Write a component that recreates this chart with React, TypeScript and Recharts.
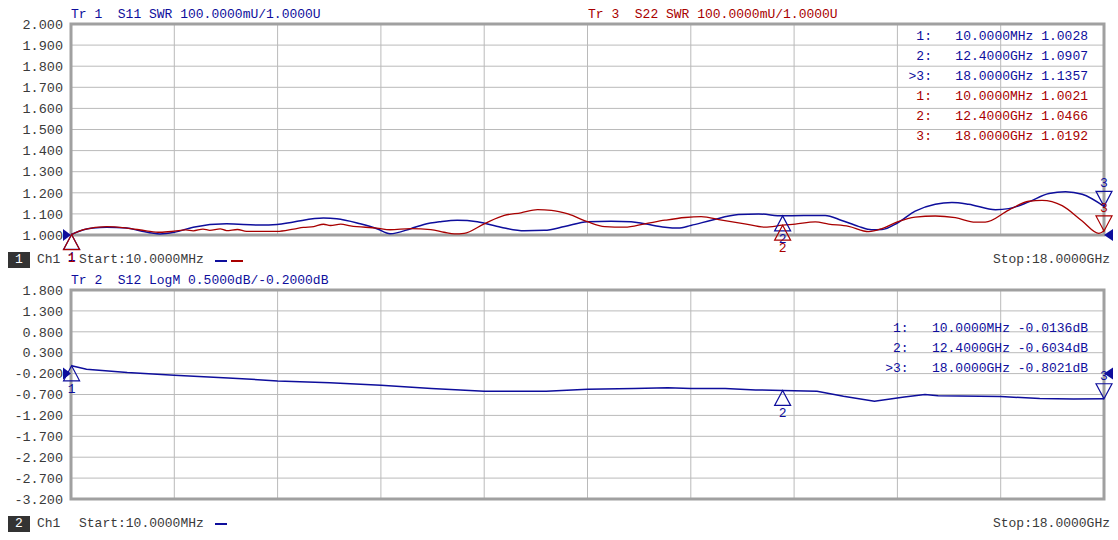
import React from 'react';
import { ComposedChart, Line, XAxis, YAxis, CartesianGrid, ReferenceArea, ReferenceDot } from 'recharts';

// frequency axis, GHz (10 MHz .. 18 GHz)
const freqTicks = [0, 1.8, 3.6, 5.4, 7.2, 9, 10.8, 12.6, 14.4, 16.2, 18];
const swrTicks = [1.0, 1.1, 1.2, 1.3, 1.4, 1.5, 1.6, 1.7, 1.8, 1.9, 2.0];
const logmTicks = [-3.2, -2.7, -2.2, -1.7, -1.2, -0.7, -0.2, 0.3, 0.8, 1.3, 1.8];

// Tr 1 S11 SWR
const s11Freq = [0.01, 0.22, 0.39, 0.62, 0.97, 1.2, 1.55, 1.8, 2.13, 2.71, 3.3, 3.59, 3.88, 4.4, 4.63, 5.04, 5.33, 5.56, 5.92, 6.15, 6.44, 6.73, 7.08, 7.49, 7.9, 8.25, 8.6, 9.0, 9.41, 9.76, 10.0, 10.35, 10.58, 10.8, 11.16, 11.63, 11.98, 12.4, 13.14, 13.43, 13.72, 13.95, 14.13, 14.4, 14.71, 15.06, 15.35, 15.64, 16.11, 16.34, 16.69, 17.04, 17.33, 17.62, 18.0];
const s11Swr = [1.0028, 1.025, 1.033, 1.037, 1.033, 1.02, 1.005, 1.013, 1.037, 1.053, 1.047, 1.05, 1.062, 1.08, 1.077, 1.053, 1.03, 1.006, 1.03, 1.05, 1.063, 1.07, 1.063, 1.037, 1.02, 1.022, 1.04, 1.063, 1.065, 1.063, 1.053, 1.037, 1.033, 1.045, 1.07, 1.097, 1.1, 1.0907, 1.093, 1.069, 1.041, 1.025, 1.026, 1.057, 1.113, 1.146, 1.154, 1.146, 1.12, 1.125, 1.157, 1.197, 1.205, 1.193, 1.1357];

// Tr 3 S22 SWR
const s22Freq = [0.01, 0.22, 0.62, 0.97, 1.31, 1.55, 1.8, 2.0, 2.13, 2.3, 2.42, 2.6, 2.71, 2.9, 3.06, 3.59, 3.88, 4.05, 4.23, 4.4, 4.52, 4.7, 4.87, 5.33, 5.56, 5.92, 6.27, 6.5, 6.68, 6.85, 7.2, 7.55, 7.84, 8.13, 8.37, 8.66, 9.0, 9.3, 9.65, 10.0, 10.35, 10.7, 10.98, 11.34, 11.74, 12.09, 12.4, 12.62, 12.97, 13.2, 13.55, 13.9, 14.13, 14.4, 14.71, 15.06, 15.41, 15.76, 15.93, 16.34, 16.69, 16.92, 17.27, 17.62, 17.91, 18.0];
const s22Swr = [1.0021, 1.025, 1.04, 1.033, 1.02, 1.013, 1.018, 1.024, 1.02, 1.028, 1.022, 1.029, 1.021, 1.026, 1.017, 1.017, 1.028, 1.036, 1.04, 1.051, 1.045, 1.052, 1.043, 1.033, 1.025, 1.03, 1.025, 1.013, 1.005, 1.008, 1.053, 1.093, 1.105, 1.12, 1.117, 1.1, 1.063, 1.04, 1.037, 1.053, 1.07, 1.083, 1.087, 1.07, 1.053, 1.037, 1.0466, 1.052, 1.062, 1.052, 1.041, 1.016, 1.03, 1.062, 1.085, 1.09, 1.082, 1.061, 1.061, 1.118, 1.16, 1.164, 1.139, 1.066, 1.008, 1.0192];

// Tr 2 S12 LogM
const s12Freq = [0.01, 0.27, 0.98, 1.8, 2.74, 3.6, 4.51, 5.4, 6.28, 7.2, 8.28, 9.0, 9.81, 10.4, 10.8, 11.4, 11.93, 12.4, 13.0, 13.46, 14.0, 14.52, 14.88, 15.11, 16.2, 16.88, 17.47, 18.0];
const s12LogM = [-0.0136, -0.097, -0.176, -0.24, -0.303, -0.375, -0.42, -0.478, -0.557, -0.62, -0.62, -0.573, -0.557, -0.54, -0.557, -0.557, -0.59, -0.6034, -0.62, -0.74, -0.86, -0.76, -0.7, -0.73, -0.75, -0.795, -0.81, -0.8021];

// markers
const markerFreq = [0.01, 12.4, 18];
const markerText = ['10.0000MHz', '12.4000GHz', '18.0000GHz'];
const s11Marker = [1.0028, 1.0907, 1.1357];
const s22Marker = [1.0021, 1.0466, 1.0192];
const s12Marker = [-0.0136, -0.6034, -0.8021];

const BLUE = '#0e0e9c';
const RED = '#a80000';
const GRID = '#bababa';
const FRAME = '#a0a0a0';
const TEXT = '#3a3a3a';
const MONO = '"Liberation Mono", "DejaVu Sans Mono", monospace';

const toPoints = (fs: number[], vs: number[]) => fs.map((f, i) => ({ f, v: vs[i] }));

const s11Data = toPoints(s11Freq, s11Swr);
const s22Data = toPoints(s22Freq, s22Swr);
const s12Data = toPoints(s12Freq, s12LogM);

const markerShape = (color: string, label: string, down: boolean) => (props: any) => {
  const { cx, cy } = props;
  if (cx == null || cy == null) return null;
  const h = down ? -15 : 15;
  return (
    <g>
      <polygon points={`${cx},${cy} ${cx - 8},${cy + h} ${cx + 8},${cy + h}`} fill="none" stroke={color} strokeWidth={1.2} />
      <text x={cx} y={down ? cy - 19 : cy + 27} textAnchor="middle" fill={color} fontSize={13} fontFamily={MONO}>
        {label}
      </text>
    </g>
  );
};

const refArrow = (right: boolean) => (props: any) => {
  const { cx, cy } = props;
  if (cx == null || cy == null) return null;
  const d = right ? 9 : -8;
  return <polygon points={`${cx},${cy} ${cx + d},${cy - 6} ${cx + d},${cy + 6}`} fill={BLUE} />;
};

const fmt = (v: number) => v.toFixed(3);

const tickStyle = { fill: TEXT, fontSize: 13.5, fontFamily: MONO };

const Dash = ({ left, top, color }: { left: number; top: number; color: string }) => (
  <div style={{ position: 'absolute', left, top, width: 12, height: 1.5, background: color }} />
);

const textBase: React.CSSProperties = {
  position: 'absolute',
  fontFamily: MONO,
  fontSize: 13,
  lineHeight: '16px',
  whiteSpace: 'pre',
};

const ChannelBox = ({ top, n }: { top: number; n: string }) => (
  <div style={{ ...textBase, left: 8, top, width: 22, height: 16, background: '#333', color: '#fff', textAlign: 'center' }}>{n}</div>
);

const TableRow = ({ top, color, text }: { top: number; color: string; text: string }) => (
  <div style={{ ...textBase, right: 1118 - 1088, top, color }}>{text}</div>
);

export default function App() {
  return (
    <div style={{ position: 'absolute', left: 0, top: 0, width: 1118, height: 540, background: '#fff', overflow: 'hidden' }}>
      {/* top panel: S11 / S22 SWR */}
      <div style={{ position: 'absolute', left: 0, top: 0 }}>
        <ComposedChart width={1118} height={270} margin={{ top: 24, right: 14, bottom: 35, left: 0 }}>
          <XAxis type="number" dataKey="f" domain={[0, 18]} ticks={freqTicks} hide />
          <YAxis
            type="number"
            domain={[1, 2]}
            ticks={swrTicks}
            tickFormatter={fmt}
            width={71}
            axisLine={false}
            tickLine={false}
            tick={tickStyle}
            interval={0}
          />
          <CartesianGrid stroke={GRID} />
          <ReferenceArea x1={0} x2={18} y1={1} y2={2} fill="none" stroke={FRAME} strokeWidth={3} />
          <Line data={s11Data} dataKey="v" type="monotone" stroke={BLUE} strokeWidth={1.5} dot={false} isAnimationActive={false} />
          <Line data={s22Data} dataKey="v" type="monotone" stroke={RED} strokeWidth={1.3} dot={false} isAnimationActive={false} />
          <ReferenceDot x={0} y={1} shape={refArrow(false)} />
          <ReferenceDot x={18} y={1} shape={refArrow(true)} />
          {markerFreq.map((f, i) => (
            <ReferenceDot key={'b' + i} x={f} y={s11Marker[i]} shape={markerShape(BLUE, String(i + 1), i === 2)} />
          ))}
          {markerFreq.map((f, i) => (
            <ReferenceDot key={'r' + i} x={f} y={s22Marker[i]} shape={markerShape(RED, String(i + 1), i === 2)} />
          ))}
        </ComposedChart>
      </div>

      <div style={{ ...textBase, left: 71, top: 7, color: BLUE }}>{'Tr 1  S11 SWR 100.0000mU/1.0000U'}</div>
      <div style={{ ...textBase, left: 588, top: 7, color: RED }}>{'Tr 3  S22 SWR 100.0000mU/1.0000U'}</div>

      {markerFreq.map((_, i) => (
        <TableRow key={'t1' + i} top={29 + i * 20} color={BLUE} text={`${i === 2 ? '>' : ' '}${i + 1}:   ${markerText[i]} ${s11Marker[i].toFixed(4)}`} />
      ))}
      {markerFreq.map((_, i) => (
        <TableRow key={'t3' + i} top={89 + i * 20} color={RED} text={` ${i + 1}:   ${markerText[i]} ${s22Marker[i].toFixed(4)}`} />
      ))}

      <ChannelBox top={252} n="1" />
      <div style={{ ...textBase, left: 37, top: 252, color: TEXT }}>Ch1</div>
      <div style={{ ...textBase, left: 79, top: 252, color: TEXT }}>Start:10.0000MHz</div>
      <Dash left={215} top={260} color={BLUE} />
      <Dash left={231} top={260} color={RED} />
      <div style={{ ...textBase, right: 8, top: 252, color: TEXT }}>Stop:18.0000GHz</div>

      {/* bottom panel: S12 LogM */}
      <div style={{ position: 'absolute', left: 0, top: 270 }}>
        <ComposedChart width={1118} height={250} margin={{ top: 20, right: 14, bottom: 21, left: 0 }}>
          <XAxis type="number" dataKey="f" domain={[0, 18]} ticks={freqTicks} hide />
          <YAxis
            type="number"
            domain={[-3.2, 1.8]}
            ticks={logmTicks}
            tickFormatter={fmt}
            width={71}
            axisLine={false}
            tickLine={false}
            tick={tickStyle}
            interval={0}
          />
          <CartesianGrid stroke={GRID} />
          <ReferenceArea x1={0} x2={18} y1={-3.2} y2={1.8} fill="none" stroke={FRAME} strokeWidth={3} />
          <Line data={s12Data} dataKey="v" type="linear" stroke={BLUE} strokeWidth={1.5} dot={false} isAnimationActive={false} />
          <ReferenceDot x={0} y={-0.2} shape={refArrow(false)} />
          <ReferenceDot x={18} y={-0.2} shape={refArrow(true)} />
          {markerFreq.map((f, i) => (
            <ReferenceDot key={'m' + i} x={f} y={s12Marker[i]} shape={markerShape(BLUE, String(i + 1), i === 2)} />
          ))}
        </ComposedChart>
      </div>

      <div style={{ ...textBase, left: 71, top: 273, color: BLUE }}>{'Tr 2  S12 LogM 0.5000dB/-0.2000dB'}</div>
      {markerFreq.map((_, i) => (
        <TableRow key={'t2' + i} top={321 + i * 20} color={BLUE} text={`${i === 2 ? '>' : ' '}${i + 1}:   ${markerText[i]} ${s12Marker[i].toFixed(4)}dB`} />
      ))}

      <ChannelBox top={516} n="2" />
      <div style={{ ...textBase, left: 37, top: 516, color: TEXT }}>Ch1</div>
      <div style={{ ...textBase, left: 79, top: 516, color: TEXT }}>Start:10.0000MHz</div>
      <Dash left={215} top={523} color={BLUE} />
      <div style={{ ...textBase, right: 8, top: 516, color: TEXT }}>Stop:18.0000GHz</div>
    </div>
  );
}
